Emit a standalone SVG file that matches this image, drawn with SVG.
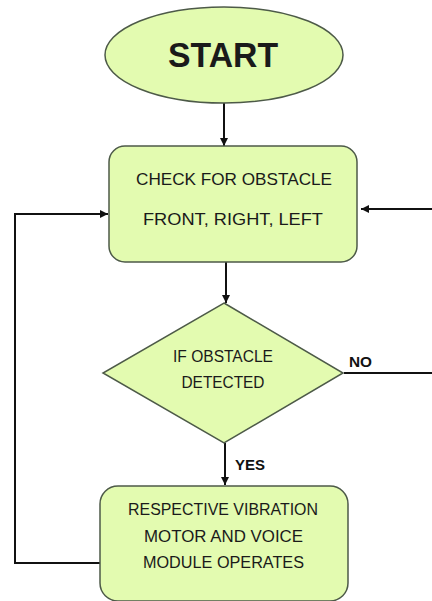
<svg xmlns="http://www.w3.org/2000/svg" width="432" height="601" viewBox="0 0 432 601">
<defs>
<style>
.shape{fill:#e3fbb0;stroke:#4d5a48;stroke-width:1.5}
.t{font-family:"Liberation Sans",Arial,sans-serif;fill:#1a1a1a;text-anchor:middle}
.lbl{font-family:"Liberation Sans",Arial,sans-serif;font-weight:bold;fill:#111;font-size:15px}
.conn{fill:none;stroke:#111;stroke-width:2}
</style>
<marker id="ah" viewBox="0 0 10 10" refX="10" refY="5" markerWidth="4" markerHeight="4" orient="auto" markerUnits="strokeWidth">
<path d="M0,0 L10,5 L0,10 z" fill="#111"/>
</marker>
</defs>
<rect width="432" height="601" fill="#ffffff"/>
<g id="connectors">
<path class="conn" d="M224,103 V146" marker-end="url(#ah)"/>
<path class="conn" d="M226,262 V303" marker-end="url(#ah)"/>
<path class="conn" d="M225,443 V485" marker-end="url(#ah)"/>
<path class="conn" d="M344,373 H436 V209 H361" marker-end="url(#ah)"/>
<path class="conn" d="M100,563 H15 V214 H108" marker-end="url(#ah)"/>
<text class="lbl" x="349" y="367" textLength="23" lengthAdjust="spacingAndGlyphs">NO</text>
<text class="lbl" x="235" y="470" textLength="30" lengthAdjust="spacingAndGlyphs">YES</text>
</g>
<g id="start">
<ellipse class="shape" cx="224" cy="55" rx="119" ry="48"/>
<text class="t" x="223" y="67" font-size="35" font-weight="bold" textLength="110" lengthAdjust="spacingAndGlyphs">START</text>
</g>
<g id="check">
<rect class="shape" x="109" y="146" width="248" height="116" rx="16"/>
<text class="t" x="234" y="185" font-size="17" textLength="196" lengthAdjust="spacingAndGlyphs">CHECK FOR OBSTACLE</text>
<text class="t" x="233" y="225" font-size="17" textLength="180" lengthAdjust="spacingAndGlyphs">FRONT, RIGHT, LEFT</text>
</g>
<g id="decision">
<polygon class="shape" points="224,303 343,373 224,443 103,373"/>
<text class="t" x="223" y="362" font-size="16" textLength="100" lengthAdjust="spacingAndGlyphs">IF OBSTACLE</text>
<text class="t" x="223" y="388" font-size="16" textLength="83" lengthAdjust="spacingAndGlyphs">DETECTED</text>
</g>
<g id="operate">
<rect class="shape" x="100" y="486" width="248" height="115" rx="18"/>
<text class="t" x="223" y="515" font-size="16" textLength="190" lengthAdjust="spacingAndGlyphs">RESPECTIVE VIBRATION</text>
<text class="t" x="223.5" y="542" font-size="16" textLength="159" lengthAdjust="spacingAndGlyphs">MOTOR AND VOICE</text>
<text class="t" x="223.5" y="568" font-size="16" textLength="161" lengthAdjust="spacingAndGlyphs">MODULE OPERATES</text>
</g>
</svg>
